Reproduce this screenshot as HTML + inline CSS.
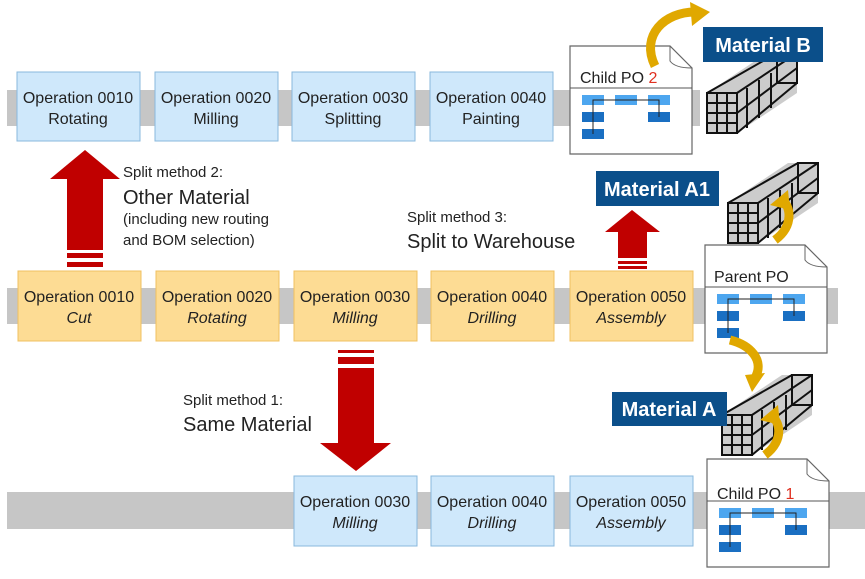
<!DOCTYPE html>
<html><head><meta charset="utf-8"><style>
body{margin:0;background:#fff}
svg text{font-family:"Liberation Sans",sans-serif;fill:#222}
</style></head><body>
<svg width="865" height="574" xmlns="http://www.w3.org/2000/svg">
<defs>
<g id="cage">
 <polygon points="0,45 60,5 90,5 90,45 30,85 0,85" fill="#ccc"/>
 <g stroke="#111" stroke-width="2" fill="none">
  <rect x="0" y="45" width="30" height="40"/>
  <line x1="0" y1="55" x2="30" y2="55"/><line x1="0" y1="65" x2="30" y2="65"/><line x1="0" y1="75" x2="30" y2="75"/>
  <line x1="10" y1="45" x2="10" y2="85"/><line x1="20" y1="45" x2="20" y2="85"/>
  <rect x="70" y="5" width="20" height="30"/>
  <line x1="0" y1="45" x2="70" y2="5"/><line x1="30" y1="45" x2="90" y2="5"/>
  <line x1="30" y1="85" x2="90" y2="35"/><line x1="30" y1="65" x2="90" y2="20"/>
  <line x1="40" y1="40" x2="40" y2="80"/><line x1="52" y1="32" x2="52" y2="70"/><line x1="64" y1="25" x2="64" y2="60"/>
 </g>
</g>
<g id="doc">
 <path d="M0,0 H100 L122,22 V108 H0 Z" fill="#fff" stroke="#666" stroke-width="1.2"/>
 <path d="M100,0 L100,15 Q105,22 122,22" fill="none" stroke="#666"/>
 <line x1="0" y1="42" x2="122" y2="42" stroke="#555"/>
 <g fill="#4da6ef"><rect x="12" y="49" width="22" height="10"/><rect x="45" y="49" width="22" height="10"/><rect x="78" y="49" width="22" height="10"/></g>
 <g fill="#1a6fc2"><rect x="12" y="66" width="22" height="10"/><rect x="78" y="66" width="22" height="10"/><rect x="12" y="83" width="22" height="10"/></g>
 <path d="M23,88 V54 H89 V71" fill="none" stroke="#222"/>
</g>
</defs>
<rect x="7" y="90" width="693" height="36" fill="#c6c6c6"/>
<rect x="7" y="288" width="831" height="36" fill="#c6c6c6"/>
<rect x="7" y="492" width="858" height="37" fill="#c6c6c6"/>
<g fill="#cfe8fb" stroke="#8ab8dd">
<rect x="17" y="72" width="123" height="69"/><rect x="155" y="72" width="123" height="69"/><rect x="292" y="72" width="123" height="69"/><rect x="430" y="72" width="123" height="69"/>
</g>
<g font-size="16" text-anchor="middle">
<text x="78" y="103">Operation 0010</text><text x="78" y="124">Rotating</text>
<text x="216" y="103">Operation 0020</text><text x="216" y="124">Milling</text>
<text x="353" y="103">Operation 0030</text><text x="353" y="124">Splitting</text>
<text x="491" y="103">Operation 0040</text><text x="491" y="124">Painting</text>
</g>
<g fill="#fddc94" stroke="#f0c060">
<rect x="18" y="271" width="123" height="70"/><rect x="156" y="271" width="123" height="70"/><rect x="294" y="271" width="123" height="70"/><rect x="431" y="271" width="123" height="70"/><rect x="570" y="271" width="123" height="70"/>
</g>
<g font-size="16" text-anchor="middle">
<text x="79" y="302">Operation 0010</text><text x="79" y="323" font-style="italic">Cut</text>
<text x="217" y="302">Operation 0020</text><text x="217" y="323" font-style="italic">Rotating</text>
<text x="355" y="302">Operation 0030</text><text x="355" y="323" font-style="italic">Milling</text>
<text x="492" y="302">Operation 0040</text><text x="492" y="323" font-style="italic">Drilling</text>
<text x="631" y="302">Operation 0050</text><text x="631" y="323" font-style="italic">Assembly</text>
</g>
<g fill="#cfe8fb" stroke="#8ab8dd">
<rect x="294" y="476" width="123" height="70"/><rect x="431" y="476" width="123" height="70"/><rect x="570" y="476" width="123" height="70"/>
</g>
<g font-size="16" text-anchor="middle">
<text x="355" y="507">Operation 0030</text><text x="355" y="528" font-style="italic">Milling</text>
<text x="492" y="507">Operation 0040</text><text x="492" y="528" font-style="italic">Drilling</text>
<text x="631" y="507">Operation 0050</text><text x="631" y="528" font-style="italic">Assembly</text>
</g>
<g fill="#c00000">
<polygon points="85,150 120,179 103,179 103,250 67,250 67,179 50,179"/>
<rect x="67" y="253" width="36" height="5"/><rect x="67" y="262" width="36" height="5"/>
<rect x="338" y="350" width="36" height="3"/><rect x="338" y="357" width="36" height="7"/>
<polygon points="338,368 374,368 374,443 391,443 356,471 320,443 338,443"/>
<polygon points="632,210 660,232 647,232 647,258 618,258 618,232 605,232"/>
<rect x="618" y="261" width="29" height="3"/><rect x="618" y="266" width="29" height="3"/>
</g>
<text x="123" y="177" font-size="15">Split method 2:</text>
<text x="123" y="204" font-size="20">Other Material</text>
<text x="123" y="224" font-size="15">(including new routing</text>
<text x="123" y="245" font-size="15">and BOM selection)</text>
<text x="407" y="222" font-size="15">Split method 3:</text>
<text x="407" y="248" font-size="20">Split to Warehouse</text>
<text x="183" y="405" font-size="15">Split method 1:</text>
<text x="183" y="431" font-size="20">Same Material</text>
<g transform="translate(570,46)"><use href="#doc"/></g>
<text x="580" y="83" font-size="16">Child PO <tspan style="fill:#e03020">2</tspan></text>
<g transform="translate(705,245)"><use href="#doc"/></g>
<text x="714" y="282" font-size="16">Parent PO</text>
<g transform="translate(707,459)"><use href="#doc"/></g>
<text x="717" y="499" font-size="16">Child PO <tspan style="fill:#e03020">1</tspan></text>
<g transform="translate(707,48)"><use href="#cage"/></g>
<g transform="translate(728,158)"><use href="#cage"/></g>
<g transform="translate(722,370)"><use href="#cage"/></g>
<rect x="703" y="27" width="120" height="35" fill="#0b4f8a"/>
<text x="763" y="52" font-size="20" font-weight="bold" text-anchor="middle" style="fill:#fff">Material B</text>
<rect x="596" y="171" width="123" height="35" fill="#0b4f8a"/>
<text x="657" y="196" font-size="20" font-weight="bold" text-anchor="middle" style="fill:#fff">Material A1</text>
<rect x="612" y="392" width="115" height="34" fill="#0b4f8a"/>
<text x="669" y="416" font-size="20" font-weight="bold" text-anchor="middle" style="fill:#fff">Material A</text>
<g fill="none" stroke="#e0a800" stroke-width="9">
<path d="M655,66 C640,35 665,12 695,12"/>
<path d="M775,240 C795,225 790,205 782,200"/>
<path d="M730,340 C750,345 765,360 755,378"/>
<path d="M765,455 C785,440 780,420 770,415"/>
</g>
<g fill="#e0a800">
<polygon points="690,2 710,12 692,26"/>
<polygon points="770,205 788,190 790,210"/>
<polygon points="745,375 765,373 752,392"/>
<polygon points="760,420 778,405 780,425"/>
</g>
</svg>
</body></html>
